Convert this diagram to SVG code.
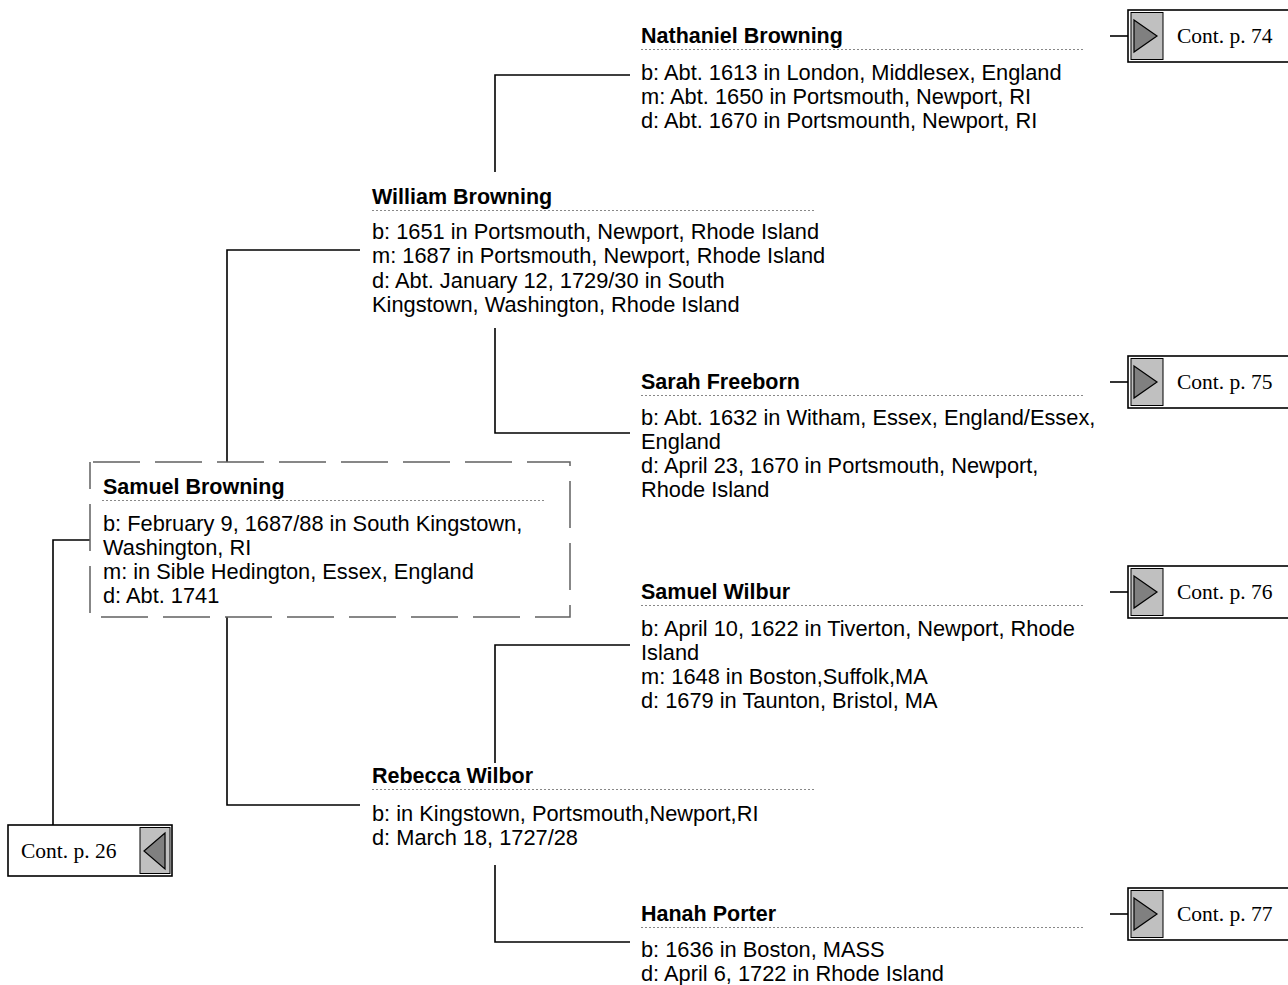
<svg xmlns="http://www.w3.org/2000/svg" width="1288" height="985" viewBox="0 0 1288 985">
<style>
text{font-family:"Liberation Sans",Arial,sans-serif;font-size:21.8px;fill:#000}
.nm{font-weight:bold;font-size:21.5px}
.sep{stroke:#888;stroke-width:1;stroke-dasharray:2 2;fill:none}
.ln{stroke:#000;stroke-width:1.6;fill:none}
.cb{fill:#fff;stroke:#000;stroke-width:1.6}
.cg{fill:#c0c0c0;stroke:#000;stroke-width:1}
.tri{fill:#808080;stroke:#000;stroke-width:1.2}
.ct{font-family:"Liberation Serif","Times New Roman",serif;font-size:21.5px}
.dash{fill:none;stroke:#606060;stroke-width:1.5;stroke-dasharray:47 15;stroke-dashoffset:59}
</style>
<rect width="1288" height="985" fill="#fff"/>
<g id="connectors">
<polyline class="ln" points="630,75 495,75 495,172"/>
<polyline class="ln" points="495,328 495,433 630,433"/>
<polyline class="ln" points="360,250 227,250 227,462"/>
<polyline class="ln" points="227,617 227,805 360,805"/>
<polyline class="ln" points="630,645 495,645 495,763"/>
<polyline class="ln" points="495,865 495,942 630,942"/>
<polyline class="ln" points="90,540 53,540 53,825"/>
<line class="ln" x1="1110" y1="36" x2="1128" y2="36"/>
<line class="ln" x1="1110" y1="382" x2="1128" y2="382"/>
<line class="ln" x1="1110" y1="592" x2="1128" y2="592"/>
<line class="ln" x1="1110" y1="914" x2="1128" y2="914"/>
</g>
<g id="nathaniel">
<text class="nm" x="641" y="42.5">Nathaniel Browning</text>
<line class="sep" x1="641" y1="49.5" x2="1085" y2="49.5"/>
<text x="641" y="79.5">b: Abt. 1613 in London, Middlesex, England</text>
<text x="641" y="103.8">m: Abt. 1650 in Portsmouth, Newport, RI</text>
<text x="641" y="128.1">d: Abt. 1670 in Portsmounth, Newport, RI</text>
</g>
<g id="william">
<text class="nm" x="372" y="203.5">William Browning</text>
<line class="sep" x1="372" y1="210.5" x2="815" y2="210.5"/>
<text x="372" y="239">b: 1651 in Portsmouth, Newport, Rhode Island</text>
<text x="372" y="263.3">m: 1687 in Portsmouth, Newport, Rhode Island</text>
<text x="372" y="287.6">d: Abt. January 12, 1729/30 in South</text>
<text x="372" y="311.9">Kingstown, Washington, Rhode Island</text>
</g>
<g id="sarah">
<text class="nm" x="641" y="388.5">Sarah Freeborn</text>
<line class="sep" x1="641" y1="395.5" x2="1085" y2="395.5"/>
<text x="641" y="424.5">b: Abt. 1632 in Witham, Essex, England/Essex,</text>
<text x="641" y="448.8">England</text>
<text x="641" y="473.1">d: April 23, 1670 in Portsmouth, Newport,</text>
<text x="641" y="497.4">Rhode Island</text>
</g>
<g id="samuel-browning">
<rect class="dash" x="90" y="462" width="480" height="155"/>
<text class="nm" x="103" y="493.5">Samuel Browning</text>
<line class="sep" x1="102" y1="500.5" x2="545" y2="500.5"/>
<text x="103" y="530.5">b: February 9, 1687/88 in South Kingstown,</text>
<text x="103" y="554.8">Washington, RI</text>
<text x="103" y="579.1">m: in Sible Hedington, Essex, England</text>
<text x="103" y="603.4">d: Abt. 1741</text>
</g>
<g id="samuel-wilbur">
<text class="nm" x="641" y="598.5">Samuel Wilbur</text>
<line class="sep" x1="641" y1="605.5" x2="1085" y2="605.5"/>
<text x="641" y="635.5">b: April 10, 1622 in Tiverton, Newport, Rhode</text>
<text x="641" y="659.8">Island</text>
<text x="641" y="684.1">m: 1648 in Boston,Suffolk,MA</text>
<text x="641" y="708.4">d: 1679 in Taunton, Bristol, MA</text>
</g>
<g id="rebecca">
<text class="nm" x="372" y="782.5">Rebecca Wilbor</text>
<line class="sep" x1="372" y1="789.5" x2="815" y2="789.5"/>
<text x="372" y="820.5">b: in Kingstown, Portsmouth,Newport,RI</text>
<text x="372" y="844.8">d: March 18, 1727/28</text>
</g>
<g id="hanah">
<text class="nm" x="641" y="920.5">Hanah Porter</text>
<line class="sep" x1="641" y1="927.5" x2="1085" y2="927.5"/>
<text x="641" y="956.5">b: 1636 in Boston, MASS</text>
<text x="641" y="980.8">d: April 6, 1722 in Rhode Island</text>
</g>
<g id="cont74">
<rect class="cb" x="1128" y="10" width="170" height="52"/>
<rect class="cg" x="1131" y="12.5" width="32" height="47"/>
<polygon class="tri" points="1134,20 1157,36 1134,52"/>
<text class="ct" x="1177" y="43">Cont. p. 74</text>
</g>
<g id="cont75">
<rect class="cb" x="1128" y="356" width="170" height="52"/>
<rect class="cg" x="1131" y="358.5" width="32" height="47"/>
<polygon class="tri" points="1134,366 1157,382 1134,398"/>
<text class="ct" x="1177" y="389">Cont. p. 75</text>
</g>
<g id="cont76">
<rect class="cb" x="1128" y="566" width="170" height="52"/>
<rect class="cg" x="1131" y="568.5" width="32" height="47"/>
<polygon class="tri" points="1134,576 1157,592 1134,608"/>
<text class="ct" x="1177" y="599">Cont. p. 76</text>
</g>
<g id="cont77">
<rect class="cb" x="1128" y="888" width="170" height="52"/>
<rect class="cg" x="1131" y="890.5" width="32" height="47"/>
<polygon class="tri" points="1134,898 1157,914 1134,930"/>
<text class="ct" x="1177" y="921">Cont. p. 77</text>
</g>
<g id="cont26">
<rect class="cb" x="8" y="825" width="164" height="51"/>
<rect class="cg" x="140" y="827.5" width="30" height="46"/>
<polygon class="tri" points="165,833 144,851 165,869"/>
<text class="ct" x="21" y="858">Cont. p. 26</text>
</g>
</svg>
